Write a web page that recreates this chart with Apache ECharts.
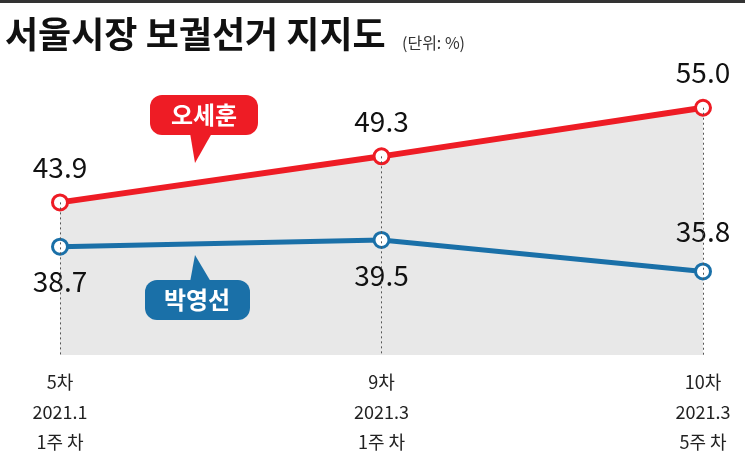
<!DOCTYPE html>
<html><head><meta charset="utf-8">
<script src="https://cdn.jsdelivr.net/npm/echarts@6/dist/echarts.min.js"></script>
<style>html,body{margin:0;padding:0;background:#fff}#c{width:745px;height:458px}</style>
</head><body><div id="c"></div>
<script>
const categories = ['5차\n2021.1\n1주 차', '9차\n2021.3\n1주 차', '10차\n2021.3\n5주 차'];
const ohValues = [43.9, 49.3, 55.0];
const parkValues = [38.7, 39.5, 35.8];
const F = '"Noto Sans CJK KR", sans-serif';
const chart = echarts.init(document.getElementById('c'));
const yMin = 26;
chart.setOption({
  animation: false,
  grid: {left: 60, right: 42, top: 60, bottom: 103},
  xAxis: {type: 'category', data: categories, boundaryGap: false,
    axisLine: {show: false}, axisTick: {show: false}, splitLine: {show: false},
    axisLabel: {fontFamily: F, fontSize: 18, color: '#222', lineHeight: 30, margin: 12, interval: 0}},
  yAxis: {type: 'value', min: yMin, max: 60.6, show: false, splitLine: {show: false}},
  graphic: [
    {type: 'rect', left: 0, top: 0, z: 100, shape: {width: 745, height: 3}, style: {fill: '#333'}},
    {type: 'text', left: 5, top: 16, z: 100, style: {text: '서울시장 보궐선거 지지도', font: 'bold 36px ' + F, fill: '#111'}},
    {type: 'text', left: 402, top: 35, z: 100, style: {text: '(단위: %)', font: '16px ' + F, fill: '#333'}},
    {type: 'group', left: 150, top: 95, z: 100, children: [
      {type: 'rect', z: 100, shape: {x: 0, y: 0, width: 108, height: 40, r: 12}, style: {fill: '#ee1c25'}},
      {type: 'polygon', z: 100, shape: {points: [[40, 38], [62, 38], [45, 68]]}, style: {fill: '#ee1c25'}},
      {type: 'text', z: 101, x: 54, y: 20, style: {text: '오세훈', font: 'bold 24px ' + F, fill: '#fff', align: 'center', verticalAlign: 'middle'}}
    ]},
    {type: 'group', left: 145, top: 255, z: 100, children: [
      {type: 'polygon', z: 100, shape: {points: [[45, 27], [66, 27], [50, 0]]}, style: {fill: '#1a70a8'}},
      {type: 'rect', z: 100, shape: {x: 0, y: 25, width: 105, height: 40, r: 12}, style: {fill: '#1a70a8'}},
      {type: 'text', z: 101, x: 52, y: 45, style: {text: '박영선', font: 'bold 24px ' + F, fill: '#fff', align: 'center', verticalAlign: 'middle'}}
    ]}
  ],
  series: [
    {name: '오세훈', type: 'line', data: ohValues, z: 3,
      lineStyle: {color: '#ee1c25', width: 6},
      areaStyle: {color: '#e8e8e8', opacity: 1, origin: 'start'},
      symbol: 'circle', symbolSize: 15,
      itemStyle: {color: '#fff', borderColor: '#ee1c25', borderWidth: 3},
      label: {show: true, position: 'top', distance: 12, fontFamily: F, fontSize: 28, color: '#111', formatter: p => p.value.toFixed(1)}},
    {name: '박영선', type: 'line', data: parkValues, z: 4,
      lineStyle: {color: '#1a70a8', width: 5},
      symbol: 'circle', symbolSize: 15,
      itemStyle: {color: '#fff', borderColor: '#1a70a8', borderWidth: 3},
      label: {show: true, position: 'bottom', distance: 12, fontFamily: F, fontSize: 28, color: '#111',
        formatter: p => p.value.toFixed(1)},
      labelLayout: p => p.dataIndex === 2 ? {dy: -75} : {},
      markLine: {silent: true, symbol: 'none', label: {show: false},
        lineStyle: {color: '#555', type: [2, 3], width: 1},
        data: ohValues.map((v, i) => [{coord: [i, v]}, {coord: [i, yMin]}])}}
  ]
});
</script></body></html>
